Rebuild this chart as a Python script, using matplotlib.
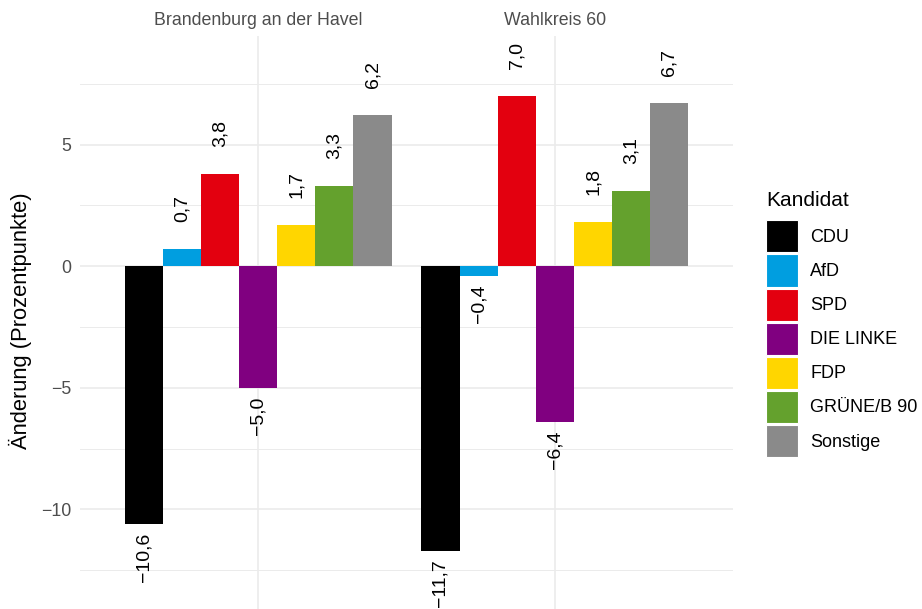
import matplotlib.pyplot as plt
import numpy as np
from matplotlib.patches import Patch

plt.rcParams['font.family'] = ['Liberation Sans', 'DejaVu Sans']

gebiete = ['Brandenburg an der Havel', 'Wahlkreis 60']
parteien = ['CDU', 'AfD', 'SPD', 'DIE LINKE', 'FDP', 'GRÜNE/B 90', 'Sonstige']
farben = ['#000000', '#009EE0', '#E3000F', '#800080', '#FFD600', '#64A12D', '#8A8A8A']

# Änderung in Prozentpunkten, je Gebiet
brandenburg = [-10.6, 0.7, 3.8, -5.0, 1.7, 3.3, 6.2]
wahlkreis = [-11.7, -0.4, 7.0, -6.4, 1.8, 3.1, 6.7]
werte = np.array([brandenburg, wahlkreis])

yticks = [-10, -5, 0, 5]
yminor = [-12.5, -7.5, -2.5, 2.5, 7.5]

fig = plt.figure(figsize=(9.22, 6.09), dpi=100)
ax = fig.add_axes([80 / 922, 0.0, (733 - 80) / 922, 1 - 36 / 609])

grid_col = '#EBEBEB'
for y in yticks:
    ax.axhline(y, color=grid_col, lw=1.2, zorder=0)
for y in yminor:
    ax.axhline(y, color=grid_col, lw=0.7, zorder=0)

gx = np.arange(1, len(gebiete) + 1)
for g in gx:
    ax.axvline(g, color=grid_col, lw=1.2, zorder=0)

n = len(parteien)
w = 0.9 / n
for i, (p, c) in enumerate(zip(parteien, farben)):
    xs = gx + (i - (n - 1) / 2) * w
    vals = werte[:, i]
    ax.bar(xs, vals, width=w, color=c, zorder=2, label=p)
    for x, v in zip(xs, vals):
        txt = f'{v:.1f}'.replace('.', ',').replace('-', '\u2212')
        if v >= 0:
            ax.annotate(txt, (x, v), xytext=(0, 19.5), textcoords='offset points',
                        rotation=90, ha='center', va='bottom', fontsize=14)
        else:
            ax.annotate(txt, (x, v), xytext=(0, -6.5), textcoords='offset points',
                        rotation=90, ha='center', va='top', fontsize=14)

ax.set_xlim(0.4, 2.6)
ax.set_ylim(-14.1, 9.47)
ax.set_yticks(yticks)
ax.set_yticklabels([str(t).replace('-', '\u2212') for t in yticks])
ax.set_xticks(gx)
ax.set_xticklabels(gebiete)
ax.xaxis.tick_top()
ax.tick_params(length=0, labelsize=12.8, labelcolor='#4D4D4D')
ax.tick_params(axis='x', pad=5)
ax.tick_params(axis='y', pad=6)
for s in ax.spines.values():
    s.set_visible(False)
ax.set_ylabel('Änderung (Prozentpunkte)', fontsize=15.8)
ax.yaxis.set_label_coords(-0.074, 0.503)

handles = [Patch(facecolor=c, edgecolor='white', lw=0.8) for c in farben]
leg = fig.legend(handles, parteien, title='Kandidat', loc='center left',
                 bbox_to_anchor=(766 / 922, 1 - 324 / 609), frameon=False,
                 borderpad=0, borderaxespad=0, fontsize=13, title_fontsize=15,
                 handlelength=1.78, handleheight=2.36, labelspacing=0.11,
                 handletextpad=0.67, alignment='left')
# a bit more room between the title and the keys
leg._legend_box.sep = 7.5

fig.savefig('out.png', dpi=100)
